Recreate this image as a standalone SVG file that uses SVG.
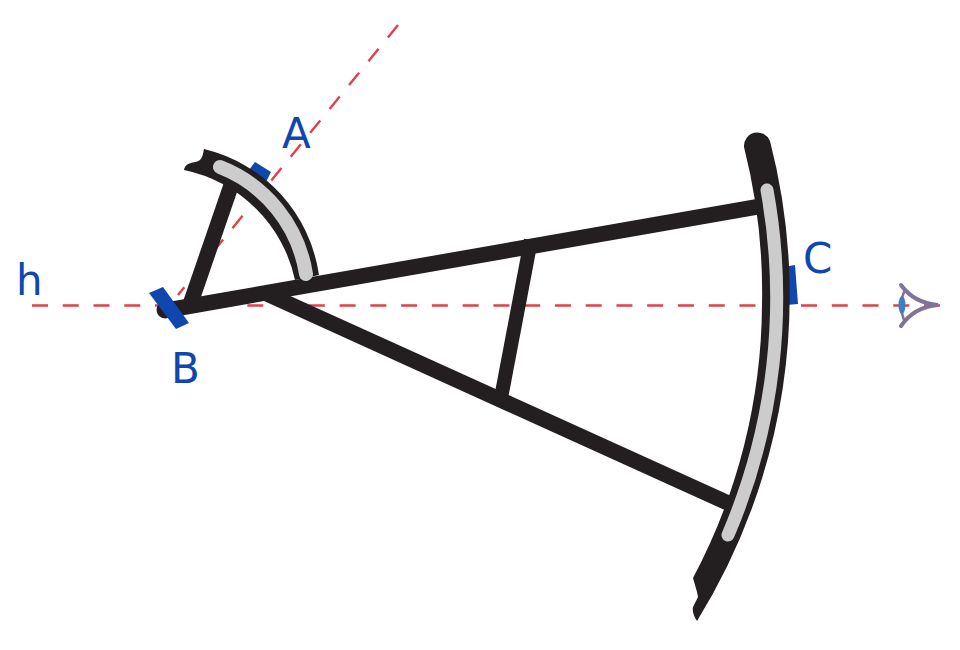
<svg xmlns="http://www.w3.org/2000/svg" width="960" height="650" viewBox="0 0 960 650">
<style>
.dash{fill:none;stroke:#e0404a;stroke-width:2.4;stroke-dasharray:16 14.76}
.blue{fill:#0f47af}
.blk{fill:#231f20}
.beam{fill:none;stroke:#231f20;stroke-width:15.5}
.gray{fill:none;stroke:#cccccc;stroke-linecap:round}
.eye{fill:none;stroke:#7f7399;stroke-width:4;stroke-linecap:round}
text{font-family:"DejaVu Sans",sans-serif;font-size:42px;fill:#0f47af}
</style>
<rect width="960" height="650" fill="#ffffff"/>
<g id="connectors">
<path class="dash" d="M32 305.5H941"/>
<path class="dash" d="M398 25L178 295"/>
</g>
<g id="mark-a"><polygon class="blue" points="249,170 255,162 271,172 266,182"/></g>
<g id="mark-c"><polygon class="blue" points="789,266 795,265 798,304 786,305"/></g>
<g id="instrument">
<path class="beam" d="M165 310.5L762 206"/>
<path class="beam" d="M265 293L728 503"/>
<path class="beam" style="stroke-width:14" d="M531 240L501 398"/>
<path class="beam" d="M233 180L190 305"/>
<circle class="blk" cx="165" cy="310" r="8.5"/>
<path class="blk" d="M204 149A152 152 0 0 1 319 275L295 280A143 143 0 0 0 184 170C186 161 194 164 200 160C203 157 203 153 204 149Z"/>
<path class="gray" stroke-width="14" d="M220 167A138 138 0 0 1 306 274"/>
<path class="blk" d="M770 141A617 617 0 0 1 697 621C694 617 692 611 693 607L698 597L697 592L693 578A590 590 0 0 0 762 305A590 590 0 0 0 744 147A13.5 13.5 0 0 1 770 141Z"/>
<path class="gray" stroke-width="13" d="M767 190A603 603 0 0 1 728 535"/>
</g>
<g id="mark-b"><polygon class="blue" points="149,293 163,287 189,323 176,329"/></g>
<g id="eye">
<path class="eye" d="M901 285Q914 303 938 305Q914 307 901 326"/>
<path class="eye" style="stroke-width:2.5" d="M904 292Q898 305 904 320"/>
<ellipse cx="902" cy="305" rx="3.5" ry="9" fill="#3f7fc0"/>
</g>
<g id="labels">
<text x="16" y="295">h</text>
<text x="282" y="148">A</text>
<text x="171" y="383">B</text>
<text x="803" y="273">C</text>
</g>
</svg>
